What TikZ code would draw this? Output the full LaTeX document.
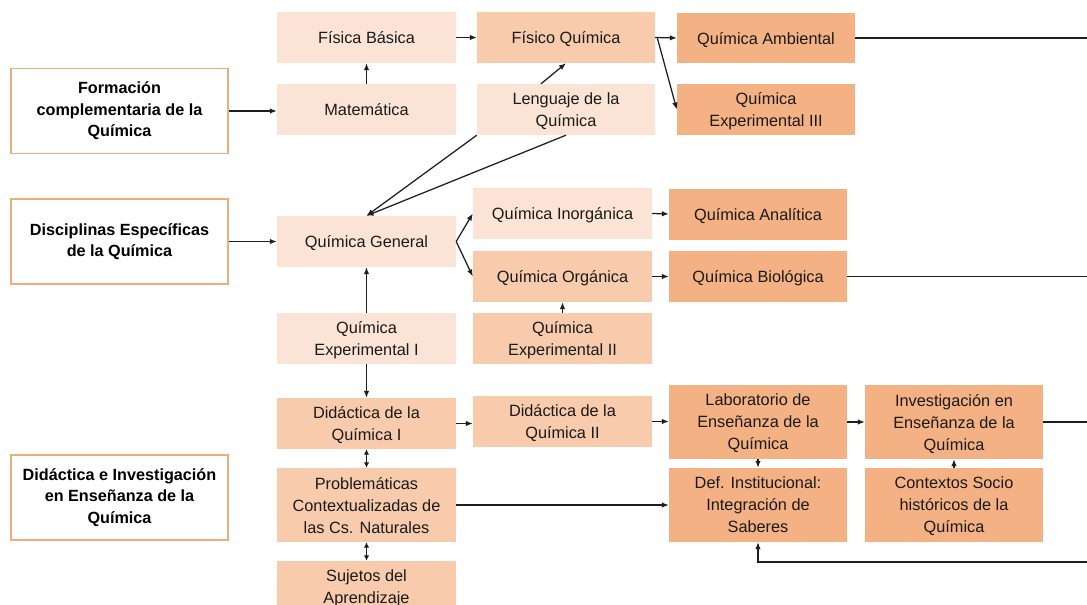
\documentclass[tikz,border=0pt]{standalone}
\usepackage{fontspec}
\setmainfont{Liberation Sans}
\usetikzlibrary{arrows.meta,calc}
\definecolor{cLight}{HTML}{FBE4D6}
\definecolor{cMed}{HTML}{F8CBAD}
\definecolor{cDark}{HTML}{F4B183}
\definecolor{cBorder}{HTML}{EDAE7E}
\definecolor{cLine}{HTML}{1E1E1E}
\definecolor{cText}{HTML}{1A1A1A}
\tikzset{
  box/.style={inner sep=0pt, align=center, text=cText, text depth=0pt,
    font=\fontsize{16.3}{22}\selectfont},
  lbox/.style={box, fill=cLight},
  mbox/.style={box, fill=cMed},
  dbox/.style={box, fill=cDark},
  hbox/.style={inner sep=0pt, align=center, text=black, fill=white,
    draw=cBorder, line width=1.5pt, minimum width=217pt, minimum height=85pt,
    font=\fontsize{16.2}{21.5}\selectfont\bfseries},
  wA/.style={minimum width=179pt},
  wB/.style={minimum width=178pt},
  hS/.style={minimum height=51pt},
  hT/.style={minimum height=74pt},
  conn/.style={draw=cLine, line width=1.25pt},
  arr/.style={conn, -{Latex[length=7pt,width=5.5pt]}},
  dbl/.style={conn, {Latex[length=5.5pt,width=5.5pt]}-{Latex[length=5.5pt,width=5.5pt]}},
}
\begin{document}
\begin{tikzpicture}[x=1pt,y=-1pt]
\useasboundingbox (0,0) rectangle (1087,605);
\clip (0,0) rectangle (1087,605);
\fill[white] (0,0) rectangle (1087,605);

% header boxes
\node[hbox] (form) at (119.5,111) {Formación\\complementaria de la\\Química};
\node[hbox] (disc) at (119.5,241.5) {Disciplinas Específicas\\de la Química};
\node[hbox] (didinv) at (119.5,497.5) {Didáctica e Investigación\\en Enseñanza de la\\Química};

% top rows
\node[lbox,wA,hS] (fisb) at (366.5,37.5) {Física Básica};
\node[lbox,wA,hS] (mat) at (366.5,109.5) {Matemática};
\node[mbox,wB,hS] (fisq) at (566,37.5) {Físico Química};
\node[lbox,wB,hS] (leng) at (566,109.5) {Lenguaje de la\\Química};
\node[dbox,wB,minimum height=50pt] (amb) at (766,38) {Química Ambiental};
\node[dbox,wB,hS] (exp3) at (766,109.5) {Química\\Experimental III};

% middle rows
\node[lbox,wA,hS] (qgen) at (366.5,241.5) {Química General};
\node[lbox,wA,hS] (inorg) at (562.5,213.5) {Química Inorgánica};
\node[dbox,wB,hS] (anal) at (758,214) {Química Analítica};
\node[mbox,wA,hS] (org) at (562.5,276.5) {Química Orgánica};
\node[dbox,wB,hS] (bio) at (758,276.5) {Química Biológica};
\node[lbox,wA,hS] (exp1) at (366.5,338.5) {Química\\Experimental I};
\node[mbox,wA,hS] (exp2) at (562.5,338.5) {Química\\Experimental II};

% bottom rows
\node[mbox,wA,hS] (did1) at (366.5,423.5) {Didáctica de la\\Química I};
\node[mbox,wA,hS] (did2) at (562.5,421.5) {Didáctica de la\\Química II};
\node[dbox,wB,hT] (lab) at (758,422) {Laboratorio de\\Enseñanza de la\\Química};
\node[dbox,wB,hT] (inv) at (954,422) {Investigación en\\Enseñanza de la\\Química};
\node[mbox,wA,hT] (prob) at (366.5,505) {Problemáticas\\Contextualizadas de\\las Cs. Naturales};
\node[dbox,wB,hT] (def) at (758,505) {Def. Institucional:\\Integración de\\Saberes};
\node[dbox,wB,hT] (ctx) at (954,505) {Contextos Socio\\históricos de la\\Química};
\node[mbox,wA,hS] (suj) at (366.5,586.5) {Sujetos del\\Aprendizaje};

% free ends on the right edge
\coordinate (e1) at (1087,38);
\coordinate (e2) at (1087,276.5);
\coordinate (e3) at (1087,422);
\coordinate (e4) at (1087,562);
\coordinate (j1) at ($(fisq.east)+(2,0)$);
\coordinate (l1) at ($(leng.north)+(-25,0)$);

% connectors
\draw[arr] (form.east) -- (mat.west |- form.east);
\draw[arr] (mat.north) -- (fisb.south);
\draw[arr] (fisb.east) -- (fisq.west);
\draw[arr] (fisq.east) -- (amb.west);
\draw[arr] (j1) -- (exp3.west);
\draw[arr] (l1) -- (fisq.south);
\draw[arr] (leng.south west) -- (qgen.north);
\draw[arr] (leng.south) -- (qgen.north);
\draw[arr] (disc.east) -- (qgen.west);
\draw[arr] (qgen.east) -- (inorg.west);
\draw[arr] (qgen.east) -- (org.west);
\draw[arr] (inorg.east) -- (anal.west);
\draw[arr] (org.east) -- (bio.west);
\draw[conn] (amb.east) -- (e1);
\draw[conn] (bio.east) -- (e2);
\draw[arr] (exp2.north) -- (org.south);
\draw[arr] (exp1.north) -- (qgen.south);
\draw[arr] (exp1.south) -- (did1.north);
\draw[dbl] (did1.south) -- (prob.north);
\draw[dbl] (prob.south) -- (suj.north);
\draw[arr] (did1.east) -- (did1.east -| did2.west);
\draw[arr] (did2.east) -- (did2.east -| lab.west);
\draw[arr] (lab.east) -- (inv.west);
\draw[conn] (inv.east) -- (e3);
\draw[arr] (lab.south) -- (def.north);
\draw[arr] (ctx.north) -- (inv.south);
\draw[arr] (prob.east) -- (def.west);
\draw[arr] (e4) -| (def.south);
\end{tikzpicture}
\end{document}
